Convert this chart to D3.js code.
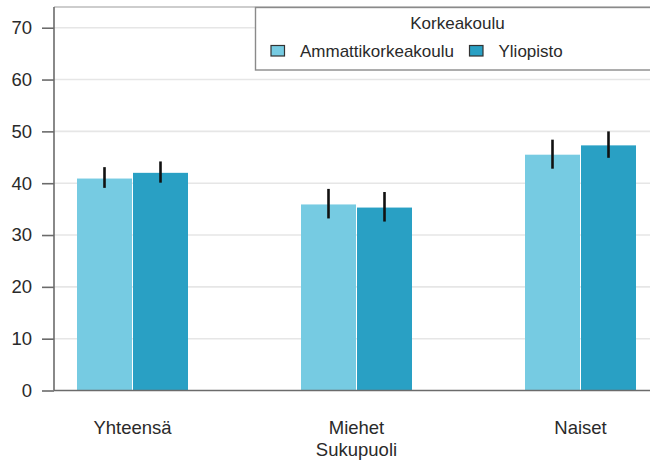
<!DOCTYPE html>
<html>
<head>
<meta charset="utf-8">
<script src="https://cdn.jsdelivr.net/npm/d3@7"></script>
<style>
  html, body { margin: 0; padding: 0; background: #fff; }
  svg { display: block; font-family: "Liberation Sans", Arial, sans-serif; }
</style>
</head>
<body>
<svg id="chart" width="650" height="462"></svg>
<script>
// Categories (Sukupuoli) and series (Korkeakoulu)
const categories = ["Yhteensä", "Miehet", "Naiset"];
const seriesNames = ["Ammattikorkeakoulu", "Yliopisto"];

// Bar values and confidence limits per series, in category order
const ammattiValues = [40.9, 35.9, 45.5];
const ammattiLow    = [39.1, 33.2, 42.8];
const ammattiHigh   = [43.1, 38.9, 48.4];
const yliopistoValues = [42.0, 35.3, 47.3];
const yliopistoLow    = [40.1, 32.6, 44.9];
const yliopistoHigh   = [44.2, 38.3, 50.0];

const yTicks = [0, 10, 20, 30, 40, 50, 60, 70];
const legendTitle = "Korkeakoulu";
const xAxisTitle = "Sukupuoli";

const colors = { "Ammattikorkeakoulu": "#76cbe2", "Yliopisto": "#29a0c4" };

const rows = [];
categories.forEach((c, i) => {
  rows.push({ cat: c, series: "Ammattikorkeakoulu", value: ammattiValues[i], lo: ammattiLow[i], hi: ammattiHigh[i] });
  rows.push({ cat: c, series: "Yliopisto", value: yliopistoValues[i], lo: yliopistoLow[i], hi: yliopistoHigh[i] });
});

const svg = d3.select("#chart");
const plotLeft = 54, plotTop = 7, plotBottom = 390.5;

const y = d3.scaleLinear().domain([0, 74]).range([plotBottom, plotTop]);
const x = d3.scaleBand().domain(categories).range([20.5, 692.5])
  .paddingInner(0.5).paddingOuter(0.25);
const sub = d3.scaleBand().domain(seriesNames).range([0, x.bandwidth()]);

// Grid lines
svg.append("g")
  .selectAll("line")
  .data(yTicks.filter(t => t > 0))
  .join("line")
  .attr("x1", plotLeft).attr("x2", 650)
  .attr("y1", d => y(d)).attr("y2", d => y(d))
  .attr("stroke", "#e6e6e6").attr("stroke-width", 1.6);

// Panel top border
svg.append("line")
  .attr("x1", plotLeft).attr("x2", 650).attr("y1", plotTop).attr("y2", plotTop)
  .attr("stroke", "#bdbdbd").attr("stroke-width", 1.6);

// Bars
svg.append("g")
  .selectAll("rect")
  .data(rows)
  .join("rect")
  .attr("x", d => x(d.cat) + sub(d.series) + 0.5)
  .attr("width", sub.bandwidth() - 1)
  .attr("y", d => y(d.value))
  .attr("height", d => y(0) - y(d.value))
  .attr("fill", d => colors[d.series]);

// Error bars
svg.append("g")
  .selectAll("line")
  .data(rows)
  .join("line")
  .attr("x1", d => x(d.cat) + sub(d.series) + sub.bandwidth() / 2)
  .attr("x2", d => x(d.cat) + sub(d.series) + sub.bandwidth() / 2)
  .attr("y1", d => y(d.lo)).attr("y2", d => y(d.hi))
  .attr("stroke", "#111").attr("stroke-width", 2.6);

// Y axis
const yAxis = svg.append("g")
  .attr("transform", `translate(${plotLeft},0)`)
  .call(d3.axisLeft(y).tickValues(yTicks).tickSize(12).tickPadding(10).tickSizeOuter(0));
yAxis.select(".domain").attr("stroke", "#6b6b6b").attr("stroke-width", 1.6)
  .attr("d", `M0,${plotTop}V${plotBottom}`);
yAxis.selectAll(".tick line").attr("stroke", "#6b6b6b").attr("stroke-width", 1.6);
yAxis.selectAll(".tick text")
  .attr("fill", "#2a2a2a").style("font-size", "18.5px")
  .style("font-family", "'Liberation Sans', Arial, sans-serif");

// X axis baseline
svg.append("line")
  .attr("x1", plotLeft).attr("x2", 650).attr("y1", y(0)).attr("y2", y(0))
  .attr("stroke", "#6b6b6b").attr("stroke-width", 1.6);

// Category labels
svg.append("g")
  .selectAll("text")
  .data(categories)
  .join("text")
  .attr("x", d => x(d) + x.bandwidth() / 2)
  .attr("y", 433.5)
  .attr("text-anchor", "middle")
  .attr("fill", "#2a2a2a")
  .style("font-size", "18.5px")
  .text(d => d);

// Axis title
svg.append("text")
  .attr("x", x(categories[1]) + x.bandwidth() / 2)
  .attr("y", 455.5)
  .attr("text-anchor", "middle")
  .attr("fill", "#2a2a2a")
  .style("font-size", "18.5px")
  .text(xAxisTitle);

// Legend
const legend = svg.append("g");
legend.append("rect")
  .attr("x", 255.5).attr("y", 7.5).attr("width", 420).attr("height", 62.5)
  .attr("fill", "#fff").attr("stroke", "#8a8a8a").attr("stroke-width", 1.4);
legend.append("text")
  .attr("x", 457.5).attr("y", 28.5)
  .attr("text-anchor", "middle").attr("fill", "#2a2a2a")
  .style("font-size", "17px")
  .text(legendTitle);

const legendItemX = { "Ammattikorkeakoulu": 271, "Yliopisto": 469.5 };
const items = legend.selectAll("g.item").data(seriesNames).join("g").attr("class", "item");
items.append("rect")
  .attr("x", d => legendItemX[d]).attr("y", 45.5)
  .attr("width", 13.5).attr("height", 10.5)
  .attr("fill", d => colors[d]).attr("stroke", "#333").attr("stroke-width", 1.2);
items.append("text")
  .attr("x", d => legendItemX[d] + 29)
  .attr("y", 56.5)
  .attr("fill", "#2a2a2a")
  .style("font-size", "17px")
  .text(d => d);
</script>
</body>
</html>
